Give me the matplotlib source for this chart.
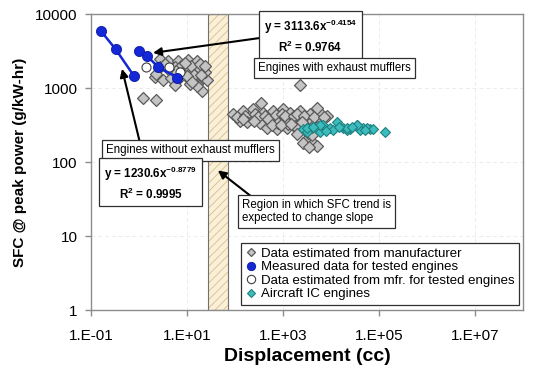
import numpy as np
import matplotlib
matplotlib.use("Agg")
import matplotlib.pyplot as plt
from matplotlib.ticker import FixedLocator, FuncFormatter, NullLocator
from matplotlib.lines import Line2D

plt.rcParams['font.family'] = ['Liberation Sans', 'DejaVu Sans']
plt.rcParams['mathtext.fontset'] = 'custom'
plt.rcParams['mathtext.rm'] = 'Liberation Sans'
plt.rcParams['mathtext.bf'] = 'Liberation Sans:bold'
plt.rcParams['hatch.linewidth'] = 0.6

# ---------------- data ----------------
# Data estimated from manufacturer (displacement cc, SFC g/kW-hr)
mfr_disp = [2.7, 4.1, 6.6, 10.6, 15.8, 21.9, 2.7, 5.6, 9.1, 13.5, 18.6, 2.15, 3.2, 7.1,
            11.5, 15.8, 25.7, 2.3, 4.6, 21, 16, 11.5, 5.6, 23.7, 17, 12, 7.5, 3.5, 8, 14,
            20, 19, 9, 1.21, 2.26, 6.0, 10.0, 24, 13, 4.0,
            91, 147, 237, 346, 383, 617, 1000, 1400, 2260, 3650, 5900, 8250, 127, 205, 331,
            537, 866, 1400, 2260, 3650, 5900, 464, 750, 1210, 1950, 3160, 2610, 4220, 2260,
            110, 160, 180, 260, 300, 420, 480, 700, 800, 950, 1100, 1300, 1700, 1800, 2000,
            2800, 3000, 4500, 5000, 7000, 3300, 4000, 2000, 5000, 3500, 5100,
            600, 900, 1500, 2500, 4000, 250, 150]
mfr_sfc = [2500, 2300, 2300, 2400, 2300, 1750, 1950, 1950, 1750, 1650, 1300, 1400, 1300, 1400,
           1300, 1150, 1300, 1550, 1350, 900, 1050, 1150, 1100, 1650, 1950, 2000, 2000, 2100, 1600, 1500,
           1500, 2100, 2200, 733, 689, 1700, 1450, 2000, 1200, 1800,
           450, 494, 525, 633, 464, 494, 525, 464, 494, 450, 464, 423, 362, 385, 341,
           362, 385, 362, 385, 341, 362, 292, 283, 292, 283, 207, 183, 183, 1100,
           400, 420, 350, 440, 400, 420, 380, 430, 340, 450, 420, 330, 420, 310, 450,
           420, 300, 400, 300, 400, 250, 230, 240, 165, 160, 540,
           320, 320, 330, 350, 300, 360, 380]

# Measured data for tested engines
meas_nomuff_disp = [0.159, 0.327, 0.787]
meas_nomuff_sfc = [5945, 3335, 1452]
meas_muff_disp = [1.0, 1.49, 2.45, 6.3]
meas_muff_sfc = [3192, 2706, 1940, 1378]

# Data estimated from mfr. for tested engines
est_disp = [1.4, 4.2, 7.1]
est_sfc = [1950, 1923, 1645]

# Aircraft IC engines
air_disp = [2610, 3650, 5110, 6810, 9500, 13300, 17800, 24900, 34800, 46400, 64900, 3160, 5900,
            11000, 21500, 40200, 3160, 5900, 21500, 34800, 56200, 75000, 133000, 8000, 15000,
            28000, 50000, 4200]
air_sfc = [283, 292, 283, 316, 292, 348, 292, 283, 316, 292, 283, 254, 254,
           271, 271, 271, 292, 316, 292, 316, 292, 283, 254, 260, 300,
           300, 270, 300]

x_ticks = [1e-1, 1e1, 1e3, 1e5, 1e7]
y_ticks = [1, 10, 100, 1000, 10000]
region = (27, 71)

legend_labels = ["Data estimated from manufacturer", "Measured data for tested engines",
                 "Data estimated from mfr. for tested engines", "Aircraft IC engines"]

# ---------------- figure ----------------
fig = plt.figure(figsize=(5.4, 3.75), dpi=100)
ax = fig.add_axes([91/540, 1-310/375, 432/540, 296/375])
ax.set_xscale('log')
ax.set_yscale('log')
ax.set_xlim(1e-1, 1e8)
ax.set_ylim(1, 10000)

for s in ax.spines.values():
    s.set_color('#8c8c8c')
    s.set_linewidth(1.0)

ax.xaxis.set_major_locator(FixedLocator(x_ticks))
ax.yaxis.set_major_locator(FixedLocator(y_ticks))
ax.xaxis.set_minor_locator(NullLocator())
ax.yaxis.set_minor_locator(NullLocator())
ax.xaxis.set_major_formatter(FuncFormatter(lambda v, _: "1.E%+03d" % int(round(np.log10(v)))))
ax.yaxis.set_major_formatter(FuncFormatter(lambda v, _: "%d" % int(round(v))))
ax.tick_params(axis='both', direction='out', length=4.5, width=1, color='#8c8c8c',
               labelsize=11, labelcolor='black')
ax.tick_params(axis='x', pad=9)
ax.tick_params(axis='y', pad=5)

ax.grid(True, which='major', color='#ececec', linestyle=(0, (4, 3)), linewidth=0.7)
ax.set_axisbelow(True)

# region band
ax.axvspan(region[0], region[1], facecolor='#faf0d8', edgecolor='#d9bd8c', hatch='////',
           linewidth=0, zorder=1)
ax.axvspan(region[0], region[1], facecolor='none', edgecolor='#707070', linewidth=0.8, zorder=1.1)

dkw = dict(marker='D', linestyle='none')
ax.plot(mfr_disp, mfr_sfc, markersize=6.0, markerfacecolor='#c4c4c4', markeredgecolor='#5a5a5a',
        markeredgewidth=0.9, zorder=3, **dkw)
ax.plot(air_disp, air_sfc, markersize=5.6, markerfacecolor='#3cbcbc', markeredgecolor='#1e7f80',
        markeredgewidth=0.8, zorder=4, **dkw)
ax.plot(est_disp, est_sfc, marker='o', linestyle='none', markersize=6.5, markerfacecolor='white',
        markeredgecolor='#404040', markeredgewidth=0.8, zorder=5)
for xs, ys in [(meas_nomuff_disp, meas_nomuff_sfc), (meas_muff_disp, meas_muff_sfc)]:
    ax.plot(xs, ys, color='#1428d8', linewidth=1.8, marker='o', markersize=7.3,
            markerfacecolor='#1428d8', markeredgecolor='#0a1aa0', markeredgewidth=0.6, zorder=6)

def px2ax(px, py):
    return ((px - 91) / 432, (310 - py) / 296)

box = dict(boxstyle='square,pad=0.35', facecolor='white', edgecolor='#303030', linewidth=0.9)
eqbox = dict(boxstyle='square,pad=0.4', facecolor='white', edgecolor='#303030', linewidth=0.9)
arrow = dict(arrowstyle='-|>', color='black', lw=1.5, mutation_scale=12, shrinkA=0, shrinkB=0)

# arrows
ax.annotate("", xy=(1.96, 2985), xycoords='data', xytext=px2ax(267, 37),
            textcoords='axes fraction', arrowprops=arrow, zorder=7)
ax.annotate("", xy=(0.443, 1816), xycoords='data', xytext=px2ax(140, 143),
            textcoords='axes fraction', arrowprops=arrow, zorder=7)
ax.annotate("", xy=(44, 77), xycoords='data', xytext=px2ax(252, 197),
            textcoords='axes fraction', arrowprops=arrow, zorder=7)

# text boxes
ax.text(*px2ax(310.5, 36.5), "y = 3113.6x$^{\\mathbf{-0.4154}}$\nR$^{\\mathbf{2}}$ = 0.9764",
        transform=ax.transAxes, ha='center', va='center', multialignment='center', fontsize=8.4,
        fontweight='bold', bbox=eqbox, zorder=8, linespacing=1.3)
ax.text(*px2ax(334.5, 68), "Engines with exhaust mufflers", transform=ax.transAxes,
        ha='center', va='center', fontsize=8.3, bbox=box, zorder=8)
ax.text(*px2ax(190.5, 150.5), "Engines without exhaust mufflers", transform=ax.transAxes,
        ha='center', va='center', fontsize=8.3, bbox=box, zorder=8)
ax.text(*px2ax(150.5, 183), "y = 1230.6x$^{\\mathbf{-0.8779}}$\nR$^{\\mathbf{2}}$ = 0.9995",
        transform=ax.transAxes, ha='center', va='center', multialignment='center', fontsize=8.4,
        fontweight='bold', bbox=eqbox, zorder=8, linespacing=1.3)
ax.text(*px2ax(242, 211.5), "Region in which SFC trend is\nexpected to change slope",
        transform=ax.transAxes, ha='left', va='center', fontsize=8.3, bbox=box, zorder=8,
        linespacing=1.05)

# legend
handles = [
    Line2D([], [], marker='D', linestyle='none', markersize=4.5, markerfacecolor='#c4c4c4',
           markeredgecolor='#5a5a5a', markeredgewidth=0.9),
    Line2D([], [], marker='o', linestyle='none', markersize=6, markerfacecolor='#1428d8',
           markeredgecolor='#0a1aa0', markeredgewidth=0.6),
    Line2D([], [], marker='o', linestyle='none', markersize=6, markerfacecolor='white',
           markeredgecolor='#404040', markeredgewidth=0.8),
    Line2D([], [], marker='D', linestyle='none', markersize=4.5, markerfacecolor='#3cbcbc',
           markeredgecolor='#1e7f80', markeredgewidth=0.8),
]
leg = ax.legend(handles, legend_labels, loc='lower right', bbox_to_anchor=(0.991, 0.017),
                borderaxespad=0, fontsize=9.5, frameon=True, fancybox=False, framealpha=1,
                edgecolor='#303030', handlelength=0.8, handletextpad=0.35, labelspacing=0.1,
                borderpad=0.35)
leg.get_frame().set_linewidth(0.9)
leg.set_zorder(9)

ax.set_xlabel("Displacement (cc)", fontsize=14, fontweight='bold', labelpad=4)
ax.set_ylabel("SFC @ peak power (g/kW-hr)", fontsize=11, fontweight='bold', labelpad=6)

fig.savefig("out.png", dpi=100)
